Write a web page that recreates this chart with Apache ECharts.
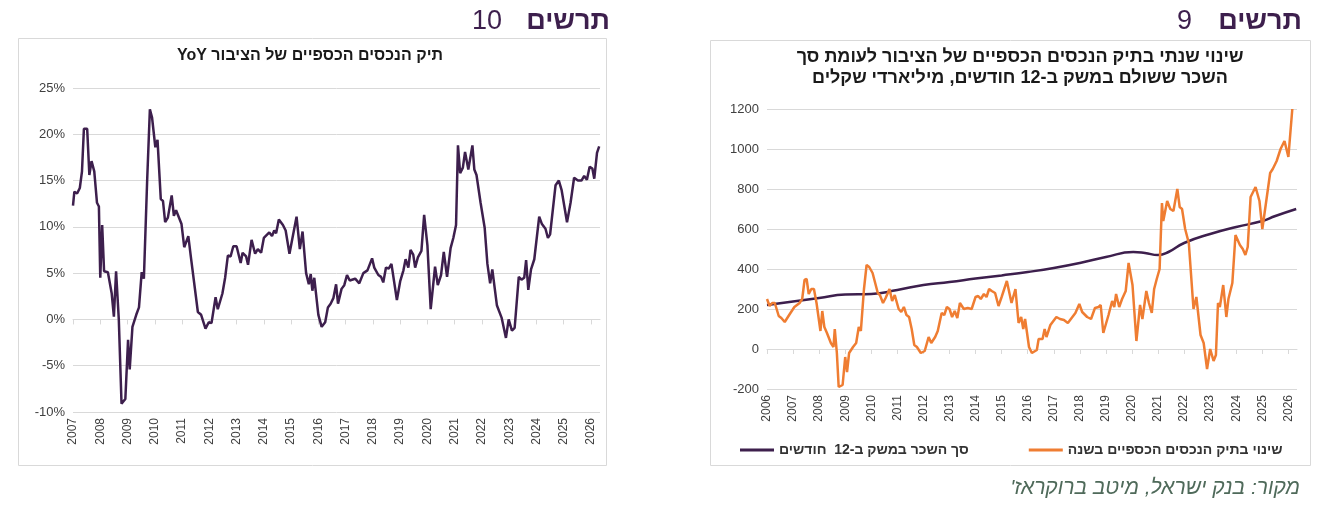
<!DOCTYPE html>
<html>
<head>
<meta charset="utf-8">
<script src="https://cdn.jsdelivr.net/npm/echarts@6/dist/echarts.min.js"></script>
<style>
  html, body { margin: 0; padding: 0; background: #fff; }
  #chart { width: 1318px; height: 520px; }
</style>
</head>
<body>
<div id="chart"></div>
<script>
// chart 10: YoY change of public financial assets (%)
var yoyYears = [2007.0,2007.05,2007.15,2007.25,2007.33,2007.4,2007.52,2007.6,2007.68,2007.78,2007.88,2007.95,2008.0,2008.07,2008.14,2008.28,2008.42,2008.5,2008.58,2008.68,2008.78,2008.92,2009.02,2009.08,2009.18,2009.32,2009.42,2009.52,2009.6,2009.72,2009.82,2009.9,2010.02,2010.1,2010.22,2010.3,2010.38,2010.48,2010.62,2010.7,2010.78,2010.98,2011.08,2011.23,2011.33,2011.4,2011.58,2011.7,2011.86,2011.98,2012.08,2012.23,2012.31,2012.48,2012.58,2012.68,2012.78,2012.88,2013.0,2013.15,2013.22,2013.35,2013.42,2013.55,2013.68,2013.78,2013.9,2014.0,2014.1,2014.2,2014.3,2014.38,2014.45,2014.55,2014.7,2014.8,2014.94,2015.05,2015.2,2015.32,2015.42,2015.55,2015.65,2015.72,2015.78,2015.85,2016.0,2016.12,2016.25,2016.35,2016.45,2016.55,2016.65,2016.72,2016.85,2016.95,2017.05,2017.15,2017.35,2017.5,2017.65,2017.8,2017.97,2018.05,2018.2,2018.3,2018.38,2018.48,2018.58,2018.68,2018.75,2018.88,2019.0,2019.12,2019.2,2019.3,2019.38,2019.48,2019.55,2019.65,2019.78,2019.88,2020.0,2020.12,2020.28,2020.38,2020.5,2020.6,2020.72,2020.85,2020.95,2021.05,2021.12,2021.2,2021.3,2021.38,2021.5,2021.65,2021.72,2021.8,2021.95,2022.1,2022.2,2022.3,2022.38,2022.55,2022.72,2022.88,2022.98,2023.1,2023.2,2023.35,2023.45,2023.55,2023.62,2023.7,2023.8,2023.92,2024.1,2024.2,2024.33,2024.42,2024.5,2024.7,2024.82,2024.92,2025.12,2025.25,2025.38,2025.52,2025.65,2025.75,2025.85,2025.95,2026.05,2026.12,2026.22,2026.3];
var yoyValues = [12.3,13.8,13.6,14.2,16,20.6,20.6,15.6,17.1,16,12.6,12.2,4.5,10.2,5.2,5.1,2.8,0.3,5.2,0,-9.1,-8.6,-2.2,-5.4,-0.8,0.5,1.3,5.1,4.4,15,22.7,21.8,18.6,19.4,13,12.8,10.5,11,13.4,11.2,11.8,10.3,7.8,9,6.6,6.5,0.8,0.5,-1,-0.3,-0.4,2.4,1.1,2.8,4.5,6.9,6.8,7.9,7.9,6.1,7.2,6.8,5.9,8.6,7.1,7.6,7.2,8.8,9.1,9.4,9.0,9.6,9.3,10.8,10.2,9.6,7.1,8.8,11.1,7.6,9.5,5.0,3.8,4.9,3.1,4.5,0.5,-0.8,-0.3,1.3,1.7,2.3,3.8,1.7,3.3,3.7,4.8,4.2,4.4,3.9,5.0,5.3,6.6,5.6,4.8,4.6,4.0,5.6,5.5,6.0,5.8,2.1,4.1,5.3,6.5,5.6,7.5,7.0,5.6,6.7,7.4,11.3,8.0,1.1,5.7,3.7,4.8,7.3,4.6,7.7,8.8,10.2,18.8,15.8,16.4,18.1,16.2,18.8,16.2,15.6,12.6,9.9,6.0,3.9,5.4,1.5,0.2,-2.0,0.0,-1.2,-0.9,4.6,4.3,4.5,6.4,3.2,5.4,6.5,11.1,10.3,9.8,8.8,9.2,14.5,15.0,14.0,10.5,12.6,15.3,15.0,15.0,15.5,15.1,16.5,16.3,15.2,18.0,18.7];

// chart 9: total wages over 12 months (bn ILS)
var wageYears = [2006,2007,2008,2009,2010,2011,2012,2013,2014,2015,2016,2017,2018,2019,2020.05,2020.5,2021.0,2021.4,2022,2023,2024,2025,2025.5,2026.3];
var wageValues = [220,238,255,272,275,295,320,335,352,368,385,405,430,460,485,480,470,485,530,575,610,640,665,700];

// chart 9: annual change in public financial assets (bn ILS)
var assetYears = [2006,2006.1,2006.2,2006.3,2006.45,2006.55,2006.68,2006.85,2007.05,2007.25,2007.35,2007.44,2007.52,2007.6,2007.7,2007.8,2007.9,2007.97,2008.05,2008.12,2008.2,2008.3,2008.45,2008.55,2008.6,2008.68,2008.75,2008.9,2009.0,2009.07,2009.15,2009.3,2009.42,2009.52,2009.6,2009.72,2009.82,2009.92,2010.05,2010.12,2010.25,2010.33,2010.45,2010.55,2010.7,2010.8,2010.9,2011.05,2011.15,2011.25,2011.35,2011.45,2011.55,2011.65,2011.75,2011.9,2012.05,2012.2,2012.3,2012.45,2012.55,2012.7,2012.8,2012.9,2013.0,2013.1,2013.2,2013.3,2013.4,2013.55,2013.7,2013.85,2014.0,2014.1,2014.2,2014.32,2014.42,2014.52,2014.62,2014.75,2014.88,2015.0,2015.2,2015.38,2015.53,2015.65,2015.75,2015.83,2015.9,2016.05,2016.16,2016.35,2016.42,2016.57,2016.65,2016.72,2016.87,2017.1,2017.24,2017.39,2017.54,2017.83,2017.98,2018.09,2018.28,2018.43,2018.5,2018.58,2018.72,2018.8,2018.9,2019.1,2019.24,2019.32,2019.39,2019.51,2019.62,2019.76,2019.87,2020.02,2020.17,2020.31,2020.4,2020.55,2020.65,2020.76,2020.85,2020.95,2021.06,2021.15,2021.2,2021.35,2021.47,2021.59,2021.74,2021.83,2021.92,2022.04,2022.18,2022.36,2022.47,2022.63,2022.75,2022.88,2023.0,2023.13,2023.22,2023.3,2023.37,2023.5,2023.62,2023.7,2023.85,2023.97,2024.14,2024.25,2024.35,2024.44,2024.55,2024.74,2024.89,2025.0,2025.14,2025.3,2025.4,2025.55,2025.7,2025.85,2026.0,2026.15,2026.3];
var assetValues = [250,215,230,230,165,155,135,170,210,230,250,345,350,275,300,300,230,220,90,190,110,80,30,10,100,-20,-190,-180,-40,-115,-20,10,30,110,90,300,420,410,380,390,280,270,230,255,300,240,270,200,185,210,170,160,100,20,10,-20,-10,60,30,60,90,180,170,210,200,160,190,155,230,200,205,200,260,265,250,275,260,300,290,280,215,260,340,230,300,130,160,100,150,10,-20,-5,50,50,100,60,120,160,150,145,130,180,225,185,160,150,140,205,210,220,80,170,240,210,275,210,250,290,430,320,40,220,150,290,230,180,300,350,400,730,640,740,700,690,800,710,700,600,530,200,260,70,30,-100,0,-60,-30,230,210,320,160,250,330,570,520,500,470,510,760,810,740,600,730,880,900,940,1000,1040,960,1200];

function zip(xs, ys) { return xs.map(function (x, i) { return [x, ys[i]]; }); }

var purple = '#3d1f4d';
var orange = '#ef7d32';
var font = 'Arial, "Liberation Sans", sans-serif';
var yearFmt = function (v) { return Number.isInteger(Math.round(v * 1000) / 1000) ? String(Math.round(v)) : ''; };

var xBase = {
  type: 'value', interval: 1,
  axisLine: { show: true, lineStyle: { color: '#d9d9d9' } },
  axisTick: { show: true, length: 5, lineStyle: { color: '#d9d9d9' } },
  splitLine: { show: false },
  axisLabel: { rotate: 90, color: '#404040', fontSize: 12, fontFamily: font, formatter: yearFmt, showMaxLabel: false, margin: 6 }
};
var yBase = {
  type: 'value',
  axisLine: { show: false }, axisTick: { show: false },
  splitLine: { lineStyle: { color: '#d9d9d9' } },
  axisLabel: { color: '#404040', fontSize: 13, fontFamily: font }
};

var chart = echarts.init(document.getElementById('chart'));
chart.setOption({
  animation: false,
  grid: [
    { left: 73, right: 1318 - 600, top: 88, height: 324 },
    { left: 767, right: 1318 - 1297, top: 109, height: 280 }
  ],
  xAxis: [
    Object.assign({}, xBase, { gridIndex: 0, min: 2007, max: 2026.33 }),
    Object.assign({}, xBase, { gridIndex: 1, min: 2006, max: 2026.33 })
  ],
  yAxis: [
    Object.assign({}, yBase, { gridIndex: 0, min: -10, max: 25, interval: 5,
      axisLabel: Object.assign({}, yBase.axisLabel, { formatter: '{value}%' }) }),
    Object.assign({}, yBase, { gridIndex: 1, min: -200, max: 1200, interval: 200,
      axisLabel: Object.assign({}, yBase.axisLabel, { formatter: function (v) { return String(v); } }) })
  ],
  legend: {
    left: 735, top: 438, itemGap: 60, itemWidth: 34, itemHeight: 3,
    icon: 'rect',
    textStyle: { color: '#333', fontSize: 14, fontWeight: 'bold', fontFamily: font },
    data: ['סך השכר במשק ב-12  חודשים', 'שינוי בתיק הנכסים הכספיים בשנה']
  },
  series: [
    { type: 'line', xAxisIndex: 0, yAxisIndex: 0, data: zip(yoyYears, yoyValues),
      showSymbol: false, lineStyle: { color: purple, width: 2.5 }, itemStyle: { color: purple } },
    { name: 'סך השכר במשק ב-12  חודשים', type: 'line', xAxisIndex: 1, yAxisIndex: 1, data: zip(wageYears, wageValues),
      smooth: true, showSymbol: false, lineStyle: { color: purple, width: 2.5 }, itemStyle: { color: purple } },
    { name: 'שינוי בתיק הנכסים הכספיים בשנה', type: 'line', xAxisIndex: 1, yAxisIndex: 1, data: zip(assetYears, assetValues),
      showSymbol: false, lineStyle: { color: orange, width: 2.5 }, itemStyle: { color: orange } }
  ],
  graphic: [
    { type: 'rect', shape: { x: 18.5, y: 38.5, width: 588, height: 427 }, style: { fill: 'none', stroke: '#d9d9d9', lineWidth: 1 } },
    { type: 'rect', shape: { x: 710.5, y: 40.5, width: 600, height: 425 }, style: { fill: 'none', stroke: '#d9d9d9', lineWidth: 1 } },
    { type: 'text', x: 610, y: 22, style: { text: 'תרשים', fill: purple, font: 'bold 27px ' + font, textAlign: 'right', textVerticalAlign: 'middle' } },
    { type: 'text', x: 502, y: 22, style: { text: '10', fill: purple, font: '27px ' + font, textAlign: 'right', textVerticalAlign: 'middle' } },
    { type: 'text', x: 1302, y: 22, style: { text: 'תרשים', fill: purple, font: 'bold 27px ' + font, textAlign: 'right', textVerticalAlign: 'middle' } },
    { type: 'text', x: 1192, y: 22, style: { text: '9', fill: purple, font: '27px ' + font, textAlign: 'right', textVerticalAlign: 'middle' } },
    { type: 'text', x: 310, y: 56, style: { text: 'YoY תיק הנכסים הכספיים של הציבור', fill: '#1a1a1a', font: 'bold 16px ' + font, textAlign: 'center', textVerticalAlign: 'middle' } },
    { type: 'text', x: 1020, y: 57, style: { text: 'שינוי שנתי בתיק הנכסים הכספיים של הציבור לעומת סך', fill: '#1a1a1a', font: 'bold 18px ' + font, textAlign: 'center', textVerticalAlign: 'middle' } },
    { type: 'text', x: 1020, y: 78, style: { text: 'השכר ששולם במשק ב-12 חודשים, מיליארדי שקלים', fill: '#1a1a1a', font: 'bold 18px ' + font, textAlign: 'center', textVerticalAlign: 'middle' } },
    { type: 'text', x: 1300, y: 488, style: { text: "מקור: בנק ישראל, מיטב ברוקראז'\u200F", fill: '#4f6a5a', font: 'italic 21px ' + font, textAlign: 'right', textVerticalAlign: 'middle' } }
  ]
});
</script>
</body>
</html>
